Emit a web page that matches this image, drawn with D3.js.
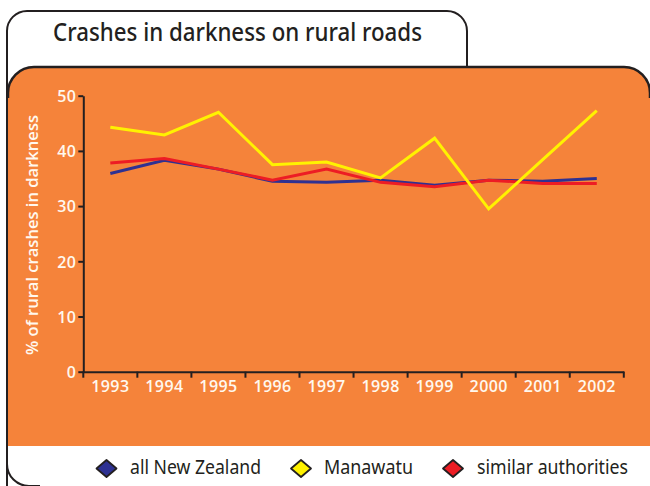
<!DOCTYPE html>
<html lang="en">
<head>
<meta charset="utf-8">
<title>Crashes in darkness on rural roads</title>
<script src="https://cdn.jsdelivr.net/npm/d3@7"></script>
<style>
  body { margin: 0; background: #fff; }
  svg { display: block; }
</style>
</head>
<body>
<script>
// data
var years = ["1993", "1994", "1995", "1996", "1997", "1998", "1999", "2000", "2001", "2002"];
var allNZ = [35.9, 38.3, 36.7, 34.5, 34.3, 34.7, 33.8, 34.7, 34.5, 35.0];
var manawatu = [44.3, 42.9, 47.0, 37.5, 38.0, 35.1, 42.3, 29.5, 38.4, 47.3];
var similar = [37.8, 38.6, 36.7, 34.7, 36.7, 34.3, 33.5, 34.7, 34.1, 34.1];
var yTicks = [0, 10, 20, 30, 40, 50];
var seriesNames = ["all New Zealand", "Manawatu", "similar authorities"];

var w = 650, h = 486;
var orange = "#f5833a";
var ink = "#231f20";

var svg = d3.select("body").append("svg")
  .attr("width", w)
  .attr("height", h);

// outer white frame with title tab
svg.append("path")
  .attr("d", "M7,500 L7,31 A20,20 0 0 1 27,11 L447,11 A20,20 0 0 1 467,31 L467,70")
  .attr("fill", "#fff")
  .attr("stroke", ink)
  .attr("stroke-width", 2);

svg.append("path")
  .attr("d", "M7,460 L7,464 A22,22 0 0 0 29,486 L40,486")
  .attr("fill", "none")
  .attr("stroke", ink)
  .attr("stroke-width", 2);

// orange panel
svg.append("path")
  .attr("d", "M8,446 L8,93 A26,26 0 0 1 34,67 L624,67 A26,26 0 0 1 650,93 L650,446 Z")
  .attr("fill", orange);
svg.append("path")
  .attr("d", "M8,98 L8,93 A26,26 0 0 1 34,67 L624,67 A26,26 0 0 1 650,93 L650,98")
  .attr("fill", "none")
  .attr("stroke", ink)
  .attr("stroke-width", 2.5);

// title
svg.append("text")
  .attr("x", 53)
  .attr("y", 41)
  .attr("font-family", "Noto Sans, sans-serif")
  .attr("font-size", 25)
  .attr("font-weight", 500)
  .attr("fill", ink)
  .attr("textLength", 369)
  .attr("lengthAdjust", "spacingAndGlyphs")
  .text("Crashes in darkness on rural roads");

var x = d3.scaleBand()
  .domain(years)
  .range([83.3, 623.8]);

var y = d3.scaleLinear()
  .domain([0, 50])
  .range([371.7, 95.7]);

// y axis
var yAxis = d3.axisLeft(y)
  .tickValues(yTicks)
  .tickSize(5)
  .tickSizeOuter(0)
  .tickPadding(2);

var gy = svg.append("g")
  .attr("transform", "translate(83.3,0)")
  .call(yAxis);

// x axis: labels centred in bands, ticks on band edges
var xAxis = d3.axisBottom(x)
  .tickSize(0)
  .tickSizeOuter(0)
  .tickPadding(9);

var gx = svg.append("g")
  .attr("transform", "translate(0,371.7)")
  .call(xAxis);

gx.selectAll(".edge")
  .data(years.concat(["end"]))
  .enter()
  .append("line")
  .attr("class", "edge")
  .attr("x1", function(d) { return d === "end" ? x.range()[1] : x(d); })
  .attr("x2", function(d) { return d === "end" ? x.range()[1] : x(d); })
  .attr("y1", 0)
  .attr("y2", 6);

[gx, gy].forEach(function(g) {
  g.selectAll("path, line").attr("stroke", ink).attr("stroke-width", 2);
  g.selectAll("text")
    .attr("fill", "#fff8ee")
    .attr("font-family", "Open Sans, sans-serif")
    .attr("font-size", 16)
    .attr("font-weight", 600)
    .attr("letter-spacing", 0.4);
});
gy.selectAll("text").attr("dy", "0.36em");

// y axis title
svg.append("text")
  .attr("transform", "translate(38,235) rotate(-90)")
  .attr("text-anchor", "middle")
  .attr("font-family", "Open Sans, sans-serif")
  .attr("font-size", 16)
  .attr("font-weight", 600)
  .attr("fill", "#fff8ee")
  .attr("textLength", 240)
  .attr("lengthAdjust", "spacingAndGlyphs")
  .text("% of rural crashes in darkness");

// lines
var line = d3.line()
  .x(function(d, i) { return x(years[i]) + x.bandwidth() / 2; })
  .y(function(d) { return y(d); });

var series = [
  { values: allNZ, color: "#2e3192" },
  { values: similar, color: "#ed1c24" },
  { values: manawatu, color: "#fff200" }
];

svg.selectAll(".series")
  .data(series)
  .enter()
  .append("path")
  .attr("class", "series")
  .attr("d", function(d) { return line(d.values); })
  .attr("fill", "none")
  .attr("stroke", function(d) { return d.color; })
  .attr("stroke-width", 3)
  .attr("stroke-linejoin", "miter");

// legend
var legend = [
  { name: seriesNames[0], color: "#2e3192", cx: 106.5, tx: 130, len: 131 },
  { name: seriesNames[1], color: "#fff200", cx: 301, tx: 324, len: 89 },
  { name: seriesNames[2], color: "#ed1c24", cx: 453, tx: 477, len: 151 }
];

var lg = svg.selectAll(".legend")
  .data(legend)
  .enter()
  .append("g")
  .attr("class", "legend");

lg.append("path")
  .attr("d", function(d) {
    return "M" + d.cx + "," + 460 + " L" + (d.cx + 10) + "," + 468.5 + " L" + d.cx + "," + 477 + " L" + (d.cx - 10) + "," + 468.5 + " Z";
  })
  .attr("fill", function(d) { return d.color; })
  .attr("stroke", ink)
  .attr("stroke-width", 1.8)
  .attr("stroke-linejoin", "round");

lg.append("text")
  .attr("x", function(d) { return d.tx; })
  .attr("y", 474.3)
  .attr("font-family", "Noto Sans, sans-serif")
  .attr("font-size", 19)
  .attr("font-weight", 400)
  .attr("fill", ink)
  .attr("textLength", function(d) { return d.len; })
  .attr("lengthAdjust", "spacingAndGlyphs")
  .text(function(d) { return d.name; });
</script>
</body>
</html>
